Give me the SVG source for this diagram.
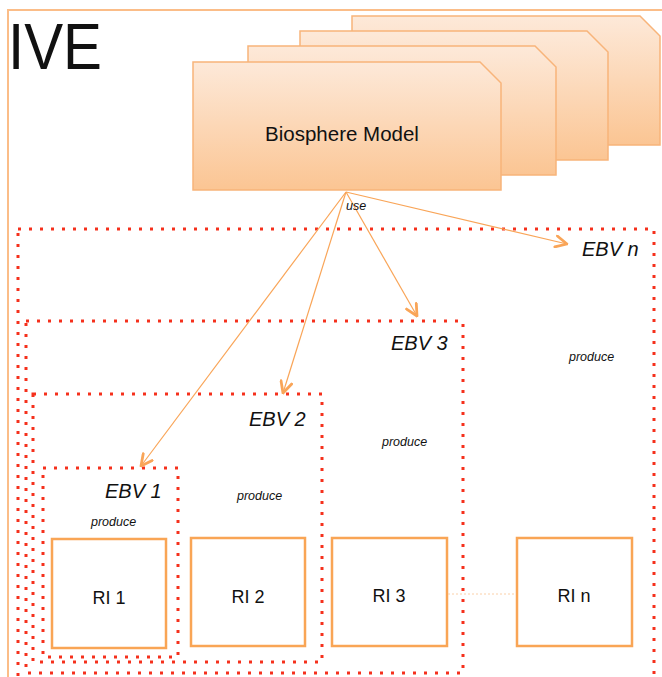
<svg xmlns="http://www.w3.org/2000/svg" width="662" height="677" viewBox="0 0 662 677">
  <defs>
    <linearGradient id="cardFill" x1="0" y1="0" x2="0" y2="1">
      <stop offset="0" stop-color="#fde9d9"/>
      <stop offset="1" stop-color="#fbc593"/>
    </linearGradient>
    <marker id="openArrow" markerUnits="userSpaceOnUse" markerWidth="14" markerHeight="14" viewBox="0 0 10 10" refX="9" refY="5" orient="auto">
      <path d="M1,1 L9,5 L1,9" fill="none" stroke="#f9a558" stroke-width="2" stroke-linecap="round" stroke-linejoin="round"/>
    </marker>
    <style>
      .frame { fill: none; stroke: #fbbd88; stroke-width: 2; }
      .card { fill: url(#cardFill); stroke: #f8b47a; stroke-width: 1.5; }
      .ebv { fill: none; stroke: #f5301c; stroke-width: 3; stroke-dasharray: 3 8; }
      .ri { fill: #ffffff; stroke: #f9a555; stroke-width: 2.5; }
      .use { fill: none; stroke: #f9a558; stroke-width: 1.2; marker-end: url(#openArrow); }
      .link { fill: none; stroke: #fbd0a8; stroke-width: 1; stroke-dasharray: 2 2; }
      text { font-family: "Liberation Sans", Arial, sans-serif; fill: #111111; }
      .title { font-size: 64px; }
      .model { font-size: 20.5px; }
      .ebvLabel { font-size: 20px; font-style: italic; }
      .small { font-size: 12.5px; font-style: italic; }
      .riLabel { font-size: 18px; }
    </style>
  </defs>

  <!-- outer IVE frame -->
  <g id="ive">
    <path class="frame" d="M8,677 L8,10 L662,10"/>
    <text class="title" x="8" y="69" textLength="94" lengthAdjust="spacingAndGlyphs">IVE</text>
  </g>

  <!-- stack of biosphere model cards, back to front -->
  <g id="biosphere-model">
    <path class="card" d="M352,16 L640,16 L660,36 L660,145 L352,145 Z"/>
    <path class="card" d="M300,31 L587,31 L608,52 L608,160 L300,160 Z"/>
    <path class="card" d="M248,46 L535,46 L556,67 L556,175 L248,175 Z"/>
    <path class="card" d="M193,62 L480,62 L501,83 L501,190 L193,190 Z"/>
    <text class="model" x="342" y="141" text-anchor="middle">Biosphere Model</text>
  </g>

  <!-- EBV groupings -->
  <g id="ebv-n">
    <rect class="ebv" x="18" y="229" width="636" height="462"/>
    <text class="ebvLabel" x="582" y="256">EBV n</text>
    <text class="small" x="569" y="361">produce</text>
  </g>
  <g id="ebv-3">
    <rect class="ebv" x="26" y="321" width="437" height="352"/>
    <text class="ebvLabel" x="391" y="350">EBV 3</text>
    <text class="small" x="382" y="446">produce</text>
  </g>
  <g id="ebv-2">
    <rect class="ebv" x="33" y="394" width="289" height="268"/>
    <text class="ebvLabel" x="249" y="426">EBV 2</text>
    <text class="small" x="237" y="500">produce</text>
  </g>
  <g id="ebv-1">
    <rect class="ebv" x="43" y="468" width="135" height="189"/>
    <text class="ebvLabel" x="105" y="498">EBV 1</text>
    <text class="small" x="91" y="526">produce</text>
  </g>

  <!-- research infrastructures -->
  <g id="ri-1">
    <rect class="ri" x="52" y="539" width="114" height="109"/>
    <text class="riLabel" x="109" y="604" text-anchor="middle">RI 1</text>
  </g>
  <g id="ri-2">
    <rect class="ri" x="191" y="538" width="114" height="108"/>
    <text class="riLabel" x="248" y="603" text-anchor="middle">RI 2</text>
  </g>
  <g id="ri-3">
    <rect class="ri" x="332" y="538" width="115" height="108"/>
    <text class="riLabel" x="389" y="602" text-anchor="middle">RI 3</text>
  </g>
  <g id="ri-n">
    <rect class="ri" x="517" y="538" width="115" height="108"/>
    <text class="riLabel" x="574" y="602" text-anchor="middle">RI n</text>
  </g>

  <!-- connectors -->
  <g id="connectors">
    <line class="use" x1="346" y1="192" x2="567" y2="244"/>
    <line class="use" x1="346" y1="192" x2="417" y2="316"/>
    <line class="use" x1="346" y1="192" x2="283" y2="393"/>
    <line class="use" x1="346" y1="192" x2="141" y2="466"/>
    <line class="link" x1="448" y1="594" x2="516" y2="594"/>
    <text class="small" x="346" y="210" font-size="11px">use</text>
  </g>
</svg>
